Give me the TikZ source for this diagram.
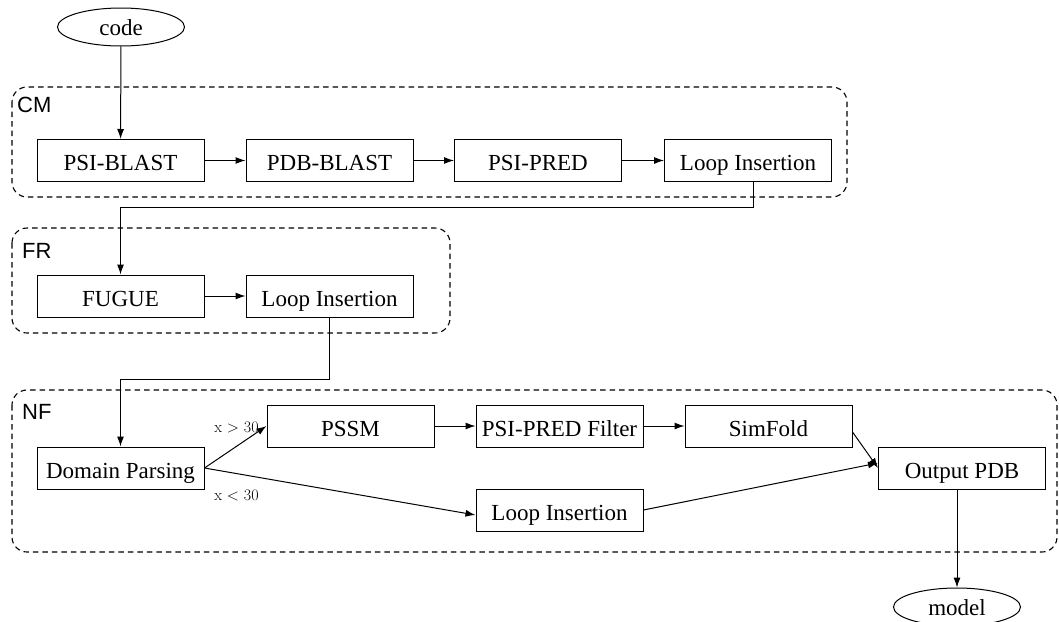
\documentclass[tikz,border=0pt]{standalone}
\usepackage{fontspec}
\setmainfont{Liberation Serif}
\setsansfont{Liberation Sans}
\newfontfamily\lmfont{Latin Modern Roman}
\usetikzlibrary{arrows.meta,shapes.geometric,calc}
\begin{document}
\begin{tikzpicture}[x=1pt,y=-1pt,
  box/.style={draw, line width=1pt, minimum width=167pt, minimum height=42pt, inner sep=0pt, text height=20pt, text depth=0pt, font=\fontsize{23}{23}\selectfont},
  oval/.style={draw, ellipse, line width=1pt, minimum width=127pt, minimum height=38pt, inner sep=0pt, text height=16pt, text depth=0pt, font=\fontsize{23}{23}\selectfont},
  group/.style={draw, dash pattern=on 5.5pt off 4pt, line width=1.1pt, rounded corners=15pt},
  glabel/.style={font=\sffamily\fontsize{22}{22}\selectfont, anchor=west, inner sep=0pt},
  edge/.style={line width=1pt, -{Latex[length=10pt,width=7pt]}},
  cond/.style={font=\lmfont\fontsize{16}{16}\selectfont, inner sep=0pt}]
\useasboundingbox (0,0) rectangle (1059,621);
% groups
\draw[group] (12,87) rectangle (847,197);
\draw[group] (12,228) rectangle (450,333);
\draw[group] (12,390) rectangle (1057,552);
\node[glabel] (cmlab) at (17,105) {CM};
\node[glabel] (frlab) at (22,251) {FR};
\node[glabel] (nflab) at (22,412) {NF};
% nodes
\node[oval] (code) at (121,27) {code};
\node[box] (psib) at (120.5,160.5) {PSI-BLAST};
\node[box] (pdbb) at (329.5,160.5) {PDB-BLAST};
\node[box] (psip) at (538,160.5) {PSI-PRED};
\node[box] (loopa) at (748,160.5) {Loop Insertion};
\node[box] (fugue) at (120.5,296) {FUGUE};
\node[box] (loopb) at (329.5,296) {Loop Insertion};
\node[box] (dp) at (120.5,468) {Domain Parsing};
\node[box] (pssm) at (350.5,426) {PSSM};
\node[box] (filt) at (559.5,426) {PSI-PRED Filter};
\node[box] (simf) at (768.5,426) {SimFold};
\node[box] (outp) at (962,468) {Output PDB};
\node[box] (loopc) at (559.5,510) {Loop Insertion};
\node[oval] (model) at (957,607) {model};
\node[cond] (gt) at (236.5,427.5) {x > 30};
\node[cond] (lt) at (236.5,495.5) {x < 30};
% edges
\draw[edge] (code) -- (psib);
\draw[edge] (psib) -- (pdbb);
\draw[edge] (pdbb) -- (psip);
\draw[edge] (psip) -- (loopa);
\draw[edge] ([xshift=5pt]loopa.south) -- ++(0,25) -| (fugue.north);
\draw[edge] (fugue) -- (loopb);
\draw[edge] (loopb.south) -- ++(0,62) -| (dp.north);
\draw[edge] (dp.east) -- (pssm.west);
\draw[edge] (dp.east) -- ([yshift=-5pt]loopc.west);
\draw[edge] (pssm) -- (filt);
\draw[edge] (filt) -- (simf);
\draw[edge] ([yshift=-6pt]simf.east) -- (outp.west);
\draw[edge] (loopc.east) -- ([yshift=5pt]outp.west);
\draw[edge] (outp.south -| model.north) -- (model.north);
\end{tikzpicture}
\end{document}
